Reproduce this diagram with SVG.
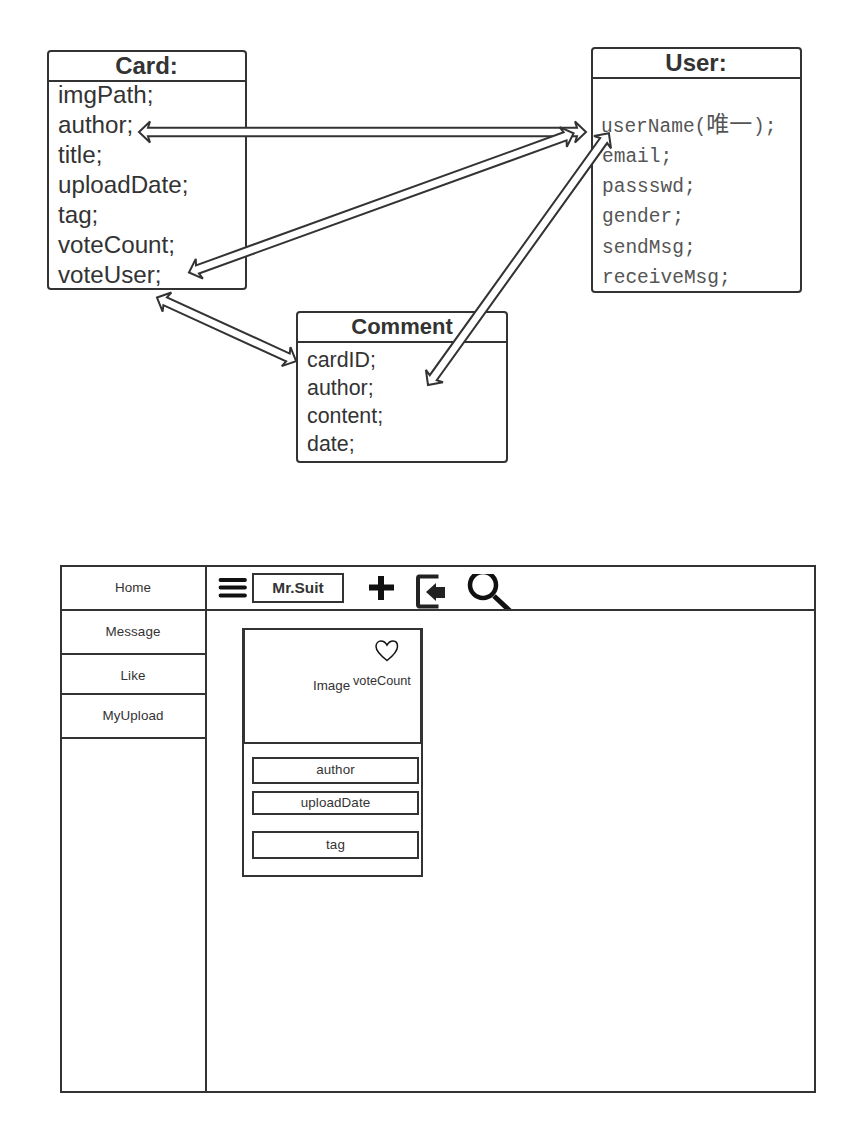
<svg xmlns="http://www.w3.org/2000/svg" width="847" height="1124" viewBox="0 0 847 1124">
<style>
text{font-family:"Liberation Sans",Arial,sans-serif;fill:#333}
.box{fill:#fff;stroke:#333;stroke-width:2}
.ln{fill:none;stroke:#333;stroke-width:2}
.ttl{font-weight:bold;text-anchor:middle}
.card{font-size:24.2px}
.cmt{font-size:21.4px}
.usr{font-family:"Liberation Mono","Noto Sans CJK SC",monospace;font-size:19.5px;fill:#555}
.arrow{fill:#fff;stroke:#333;stroke-width:2;stroke-linejoin:miter}
.ui{font-size:13.4px;text-anchor:middle;letter-spacing:.1px}
.ui2{fill:#fff;stroke:#333;stroke-width:2}
</style>
<defs><clipPath id="searchClip"><rect x="460" y="574" width="60" height="35"/></clipPath></defs>
<rect width="847" height="1124" fill="#fff"/>
<g id="card">
<rect class="box" x="48" y="51" width="198" height="238" rx="3"/>
<line class="ln" x1="48" y1="81" x2="246" y2="81"/>
<text class="ttl" x="146.500" y="74" font-size="24">Card:</text>
<text class="card" x="58" y="103">imgPath;</text>
<text class="card" x="58" y="133">author;</text>
<text class="card" x="58" y="163">title;</text>
<text class="card" x="58" y="193">uploadDate;</text>
<text class="card" x="58" y="223">tag;</text>
<text class="card" x="58" y="253">voteCount;</text>
<text class="card" x="58" y="283">voteUser;</text>
</g>
<g id="user">
<rect class="box" x="592" y="48" width="209" height="244" rx="3"/>
<line class="ln" x1="592" y1="78" x2="801" y2="78"/>
<text class="ttl" x="696" y="71" font-size="24">User:</text>
<text class="usr" x="601" y="132">userName(<tspan font-size="23">唯一</tspan><tspan x="753">);</tspan></text>
<text class="usr" x="602" y="162">email;</text>
<text class="usr" x="602" y="192">passswd;</text>
<text class="usr" x="602" y="222">gender;</text>
<text class="usr" x="602" y="252.500">sendMsg;</text>
<text class="usr" x="602" y="282.500">receiveMsg;</text>
</g>
<g id="comment">
<rect class="box" x="297" y="312" width="210" height="150" rx="3"/>
<line class="ln" x1="297" y1="342" x2="507" y2="342"/>
<text class="ttl" x="402" y="334" font-size="22">Comment</text>
<text class="cmt" x="307" y="367">cardID;</text>
<text class="cmt" x="307" y="395">author;</text>
<text class="cmt" x="307" y="423">content;</text>
<text class="cmt" x="307" y="451">date;</text>
</g>
<g id="connectors">
<path class="arrow" transform="translate(139 132)" d="M0,0L11,-10.500L9,-4.300H438L436,-10.500L447,0L436,10.500L438,4.300H9L11,10.500Z"/>
<path class="arrow" transform="translate(189 272.500) rotate(-19.900)" d="M0,0L11,-10.500L9,-4.300H400L398,-10.500L409,0L398,10.500L400,4.300H9L11,10.500Z"/>
<path class="arrow" transform="translate(428 385) rotate(-54.300)" d="M0,0L11,-10.500L9,-4.300H301L299,-10.500L310,0L299,10.500L301,4.300H9L11,10.500Z"/>
<path class="arrow" transform="translate(157 297.500) rotate(24.600)" d="M0,0L11,-10.500L9,-4.300H144L142,-10.500L153,0L142,10.500L144,4.300H9L11,10.500Z"/>
</g>
<g id="frame">
<rect class="ln" x="61" y="566" width="754" height="526"/>
<line class="ln" x1="206" y1="566" x2="206" y2="1092"/>
<line class="ln" x1="61" y1="610" x2="815" y2="610"/>
</g>
<g id="nav-home"><text class="ui" x="133" y="592">Home</text></g>
<g id="nav-message"><line class="ln" x1="61" y1="654" x2="206" y2="654"/><text class="ui" x="133" y="636">Message</text></g>
<g id="nav-like"><line class="ln" x1="61" y1="694" x2="206" y2="694"/><text class="ui" x="133" y="680">Like</text></g>
<g id="nav-myupload"><line class="ln" x1="61" y1="738" x2="206" y2="738"/><text class="ui" x="133" y="720">MyUpload</text></g>
<g id="menu-icon" fill="none" stroke="#111" stroke-width="3.800" stroke-linecap="round">
<path d="M220.500,580H245M220.500,587.500H245M220.500,595.500H245"/>
</g>
<g id="title"><rect class="ui2" x="253" y="574" width="90" height="28"/><text x="298" y="593" font-size="15.400" font-weight="bold" text-anchor="middle">Mr.Suit</text></g>
<g id="add-icon"><path d="M381,576V600M369,587.500H394" fill="none" stroke="#111" stroke-width="6"/></g>
<g id="exit-icon">
<path d="M438.500,576.500H419A1.500,1.500 0 0 0 418,578V605A1.500,1.500 0 0 0 419,606.500H438.500" fill="none" stroke="#222" stroke-width="4"/>
<path d="M416,578H420V605H416Z" fill="#222"/>
<path d="M426,592L436,583V587H445V598H436V601Z" fill="#222"/>
</g>
<g id="search-icon" clip-path="url(#searchClip)" fill="none" stroke="#111">
<circle cx="483" cy="585" r="13" stroke-width="4.500"/>
<line x1="494" y1="596" x2="510" y2="611" stroke-width="5"/>
</g>
<g id="post">
<rect class="ln" x="243" y="629" width="179" height="247"/>
<rect class="ln" x="244" y="629" width="177" height="114"/>
<path d="M387,660.500C380,655 376,650.500 376,646.500C376,643 378.500,641 381,641C383.500,641 385.500,642.500 387,645C388.500,642.500 390.500,641 393,641C395.500,641 397.500,643 397.500,646.500C397.500,650.500 394,655 387,660.500Z" fill="none" stroke="#111" stroke-width="1.500"/>
<text x="313" y="690" font-size="13.400">Image</text>
<text x="353" y="685" font-size="12.700">voteCount</text>
</g>
<g id="author-field"><rect class="ui2" x="253" y="758" width="165" height="25"/><text class="ui" x="335.500" y="774">author</text></g>
<g id="date-field"><rect class="ui2" x="253" y="792" width="165" height="22"/><text class="ui" x="335.500" y="807">uploadDate</text></g>
<g id="tag-field"><rect class="ui2" x="253" y="832" width="165" height="26"/><text class="ui" x="335.500" y="849">tag</text></g>
</svg>
